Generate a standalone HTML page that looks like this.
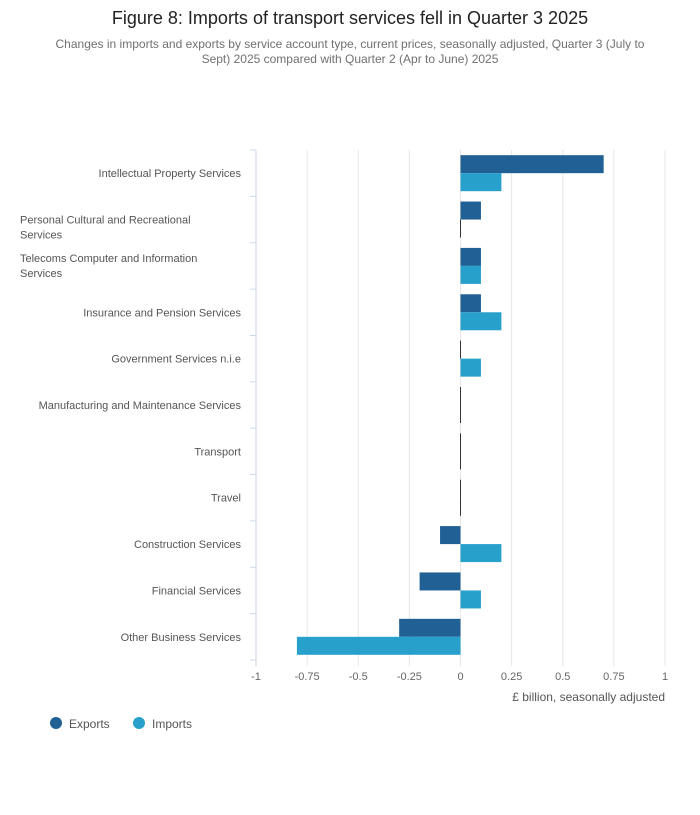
<!DOCTYPE html>
<html><head><meta charset="utf-8"><style>
body{margin:0;background:#fff;font-family:"Liberation Sans",sans-serif;}
</style></head><body>
<svg width="700" height="810" xmlns="http://www.w3.org/2000/svg" font-family="Liberation Sans, sans-serif">
<text x="350" y="24" text-anchor="middle" font-size="18" fill="#222">Figure 8: Imports of transport services fell in Quarter 3 2025</text>
<text x="350" y="48" text-anchor="middle" font-size="12" fill="#707070">Changes in imports and exports by service account type, current prices, seasonally adjusted, Quarter 3 (July to</text>
<text x="350" y="63" text-anchor="middle" font-size="12" fill="#707070">Sept) 2025 compared with Quarter 2 (Apr to June) 2025</text>
<g id="grid"></g><g id="bars"></g><g id="axes"></g>
<text x="665" y="701" text-anchor="end" font-size="12" fill="#555">£ billion, seasonally adjusted</text>
<g><circle cx="56" cy="723" r="6" fill="#206095"/><text x="69" y="728" font-size="12" fill="#555">Exports</text></g>
<g><circle cx="139" cy="723" r="6" fill="#27a0cc"/><text x="152" y="728" font-size="12" fill="#555">Imports</text></g>
</svg>
<script>
const categories=[["Intellectual Property Services"],["Personal Cultural and Recreational","Services"],["Telecoms Computer and Information","Services"],["Insurance and Pension Services"],["Government Services n.i.e"],["Manufacturing and Maintenance Services"],["Transport"],["Travel"],["Construction Services"],["Financial Services"],["Other Business Services"]];
const exportsVals=[0.7,0.1,0.1,0.1,0,0,0,0,-0.1,-0.2,-0.3];
const importsVals=[0.2,0,0.1,0.2,0.1,0,0,0,0.2,0.1,-0.8];
const ticks=[-1,-0.75,-0.5,-0.25,0,0.25,0.5,0.75,1];
const NS="http://www.w3.org/2000/svg";
const L=256,R=665,T=150,B=660;
const x=v=>L+(v+1)/2*(R-L);
const band=(B-T)/categories.length;
const y=i=>T+i*band;
function mk(tag,attrs,parent){const e=document.createElementNS(NS,tag);for(const k in attrs)e.setAttribute(k,attrs[k]);document.getElementById(parent).appendChild(e);return e;}
ticks.forEach(t=>{
 const g=mk('line',{x1:x(t),x2:x(t),y1:T,y2:B+6,stroke:t===-1?'#ccc':'#e6e6e6'},'grid');
 
 
 const tx=mk('text',{x:x(t),y:B+20,'text-anchor':'middle','font-size':11,fill:'#666'},'axes');
 tx.textContent=String(t);
 
 
});
const ax=mk('line',{x1:L,x2:L,y1:T,y2:B,stroke:'#ccd6eb'},'axes');


for(let i=0;i<=categories.length;i++){
 const tk=mk('line',{x1:L-6,x2:L,y1:y(i),y2:y(i),stroke:'#ccd6eb'},'axes');
 
 
}
const bh=18;
categories.forEach((c,i)=>{
 const cy=y(i)+band/2;
 const off=i===1?4:-4;
 const lab=mk('text',{'font-size':11,fill:'#555','text-anchor':c.length>1?'start':'end'},'axes');
 
 
 if(c.length>1){c.forEach((s,j)=>{const ts=document.createElementNS(NS,'tspan');ts.setAttribute('x',20);ts.setAttribute('y',cy+off+j*15);ts.textContent=s;lab.appendChild(ts);});}
 else{lab.setAttribute('x',241);lab.setAttribute('y',cy+4);lab.textContent=c[0];}
 [[exportsVals[i],'#206095',cy-bh,'bar-exports'],[importsVals[i],'#27a0cc',cy,'bar-imports']].forEach(([v,col,top,nm])=>{
  const x0=Math.min(x(0),x(v)),w=Math.abs(x(v)-x(0));
  const r=mk('rect',{x:w<1?x(0)-0.5:x0,y:top,width:Math.max(w,1),height:bh,fill:w<1?'#333':col},'bars');
  
  
 });
});
</script>
</body></html>
